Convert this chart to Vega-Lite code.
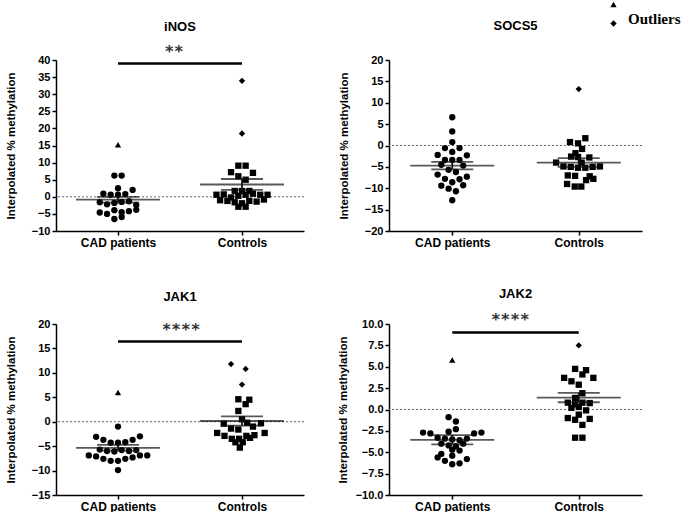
{
  "$schema": "https://vega.github.io/schema/vega-lite/v6.json",
  "padding": {"left": 5, "top": -3, "right": 0, "bottom": 0},
  "config": {
    "font": "Liberation Sans",
    "view": {"stroke": null},
    "axis": {"domainColor": "black", "domainWidth": 1.5, "tickColor": "black", "tickWidth": 1.5, "tickSize": 4, "labelFont": "Liberation Sans", "labelFontWeight": "bold", "labelFontSize": 11, "labelColor": "black", "titleFont": "Liberation Sans", "titleFontWeight": "bold", "titleFontSize": 11.5, "titleColor": "black", "grid": false},
    "axisX": {"labelFontSize": 12, "labelAngle": 0, "labelPadding": 2},
    "axisY": {"labelPadding": 2, "titlePadding": 15},
    "title": {"font": "Liberation Sans", "fontSize": 13, "fontWeight": "bold", "color": "black", "frame": "group"}
  },
  "datasets": {
    "points": [
      {"gene":"iNOS","group":"CAD patients","marker":"Outlier CAD","v":15.2,"slot":0},
      {"gene":"iNOS","group":"CAD patients","marker":"CAD","v":6.2,"slot":-0.5},
      {"gene":"iNOS","group":"CAD patients","marker":"CAD","v":6.2,"slot":0.5},
      {"gene":"iNOS","group":"CAD patients","marker":"CAD","v":2.5,"slot":0},
      {"gene":"iNOS","group":"CAD patients","marker":"CAD","v":2.0,"slot":2},
      {"gene":"iNOS","group":"CAD patients","marker":"CAD","v":0.9,"slot":-2},
      {"gene":"iNOS","group":"CAD patients","marker":"CAD","v":0.6,"slot":-1},
      {"gene":"iNOS","group":"CAD patients","marker":"CAD","v":0.6,"slot":0},
      {"gene":"iNOS","group":"CAD patients","marker":"CAD","v":0.8,"slot":1},
      {"gene":"iNOS","group":"CAD patients","marker":"CAD","v":-1.6,"slot":-2.5},
      {"gene":"iNOS","group":"CAD patients","marker":"CAD","v":-2.2,"slot":-1.5},
      {"gene":"iNOS","group":"CAD patients","marker":"CAD","v":-1.8,"slot":-0.5},
      {"gene":"iNOS","group":"CAD patients","marker":"CAD","v":-1.5,"slot":0.5},
      {"gene":"iNOS","group":"CAD patients","marker":"CAD","v":-1.3,"slot":1.5},
      {"gene":"iNOS","group":"CAD patients","marker":"CAD","v":-2.4,"slot":2.5},
      {"gene":"iNOS","group":"CAD patients","marker":"CAD","v":-4.6,"slot":-2.5},
      {"gene":"iNOS","group":"CAD patients","marker":"CAD","v":-5.0,"slot":-1.5},
      {"gene":"iNOS","group":"CAD patients","marker":"CAD","v":-3.9,"slot":-0.5},
      {"gene":"iNOS","group":"CAD patients","marker":"CAD","v":-4.5,"slot":0.5},
      {"gene":"iNOS","group":"CAD patients","marker":"CAD","v":-4.2,"slot":1.5},
      {"gene":"iNOS","group":"CAD patients","marker":"CAD","v":-3.8,"slot":2.5},
      {"gene":"iNOS","group":"CAD patients","marker":"CAD","v":-6.5,"slot":-0.5},
      {"gene":"iNOS","group":"CAD patients","marker":"CAD","v":-5.9,"slot":0.5},
      {"gene":"iNOS","group":"Controls","marker":"Outlier Control","v":33.9,"slot":0},
      {"gene":"iNOS","group":"Controls","marker":"Outlier Control","v":18.5,"slot":0},
      {"gene":"iNOS","group":"Controls","marker":"Control","v":9.1,"slot":-0.5},
      {"gene":"iNOS","group":"Controls","marker":"Control","v":9.1,"slot":0.5},
      {"gene":"iNOS","group":"Controls","marker":"Control","v":7.2,"slot":-1.5},
      {"gene":"iNOS","group":"Controls","marker":"Control","v":7.0,"slot":1.5},
      {"gene":"iNOS","group":"Controls","marker":"Control","v":6.0,"slot":-0.5},
      {"gene":"iNOS","group":"Controls","marker":"Control","v":5.0,"slot":0.5},
      {"gene":"iNOS","group":"Controls","marker":"Control","v":1.7,"slot":-1},
      {"gene":"iNOS","group":"Controls","marker":"Control","v":1.7,"slot":0},
      {"gene":"iNOS","group":"Controls","marker":"Control","v":1.7,"slot":1},
      {"gene":"iNOS","group":"Controls","marker":"Control","v":0.6,"slot":-3.5},
      {"gene":"iNOS","group":"Controls","marker":"Control","v":0.7,"slot":-2.5},
      {"gene":"iNOS","group":"Controls","marker":"Control","v":-0.2,"slot":-1.5},
      {"gene":"iNOS","group":"Controls","marker":"Control","v":0.3,"slot":-0.5},
      {"gene":"iNOS","group":"Controls","marker":"Control","v":0.6,"slot":0.5},
      {"gene":"iNOS","group":"Controls","marker":"Control","v":0.9,"slot":1.5},
      {"gene":"iNOS","group":"Controls","marker":"Control","v":0.6,"slot":2.5},
      {"gene":"iNOS","group":"Controls","marker":"Control","v":0.6,"slot":3.5},
      {"gene":"iNOS","group":"Controls","marker":"Control","v":-1.0,"slot":-3},
      {"gene":"iNOS","group":"Controls","marker":"Control","v":-1.2,"slot":-2},
      {"gene":"iNOS","group":"Controls","marker":"Control","v":-1.6,"slot":-1},
      {"gene":"iNOS","group":"Controls","marker":"Control","v":-1.9,"slot":0},
      {"gene":"iNOS","group":"Controls","marker":"Control","v":-1.2,"slot":1},
      {"gene":"iNOS","group":"Controls","marker":"Control","v":-1.4,"slot":2},
      {"gene":"iNOS","group":"Controls","marker":"Control","v":-0.8,"slot":3},
      {"gene":"iNOS","group":"Controls","marker":"Control","v":-2.9,"slot":-0.5},
      {"gene":"iNOS","group":"Controls","marker":"Control","v":-2.9,"slot":0.5},

      {"gene":"SOCS5","group":"CAD patients","marker":"CAD","v":6.6,"slot":0},
      {"gene":"SOCS5","group":"CAD patients","marker":"CAD","v":3.3,"slot":0},
      {"gene":"SOCS5","group":"CAD patients","marker":"CAD","v":0.8,"slot":0},
      {"gene":"SOCS5","group":"CAD patients","marker":"CAD","v":-0.6,"slot":-1},
      {"gene":"SOCS5","group":"CAD patients","marker":"CAD","v":-0.6,"slot":1},
      {"gene":"SOCS5","group":"CAD patients","marker":"CAD","v":-1.5,"slot":0},
      {"gene":"SOCS5","group":"CAD patients","marker":"CAD","v":-2.2,"slot":-2},
      {"gene":"SOCS5","group":"CAD patients","marker":"CAD","v":-2.3,"slot":2},
      {"gene":"SOCS5","group":"CAD patients","marker":"CAD","v":-3.4,"slot":-1},
      {"gene":"SOCS5","group":"CAD patients","marker":"CAD","v":-3.4,"slot":0},
      {"gene":"SOCS5","group":"CAD patients","marker":"CAD","v":-3.4,"slot":1},
      {"gene":"SOCS5","group":"CAD patients","marker":"CAD","v":-4.5,"slot":-1.5},
      {"gene":"SOCS5","group":"CAD patients","marker":"CAD","v":-4.7,"slot":1.5},
      {"gene":"SOCS5","group":"CAD patients","marker":"CAD","v":-5.7,"slot":-0.5},
      {"gene":"SOCS5","group":"CAD patients","marker":"CAD","v":-6.2,"slot":0.5},
      {"gene":"SOCS5","group":"CAD patients","marker":"CAD","v":-6.8,"slot":-2},
      {"gene":"SOCS5","group":"CAD patients","marker":"CAD","v":-7.3,"slot":2},
      {"gene":"SOCS5","group":"CAD patients","marker":"CAD","v":-7.8,"slot":-1},
      {"gene":"SOCS5","group":"CAD patients","marker":"CAD","v":-7.9,"slot":1},
      {"gene":"SOCS5","group":"CAD patients","marker":"CAD","v":-9.4,"slot":-1.5},
      {"gene":"SOCS5","group":"CAD patients","marker":"CAD","v":-8.6,"slot":0},
      {"gene":"SOCS5","group":"CAD patients","marker":"CAD","v":-9.3,"slot":1.5},
      {"gene":"SOCS5","group":"CAD patients","marker":"CAD","v":-10.1,"slot":-0.5},
      {"gene":"SOCS5","group":"CAD patients","marker":"CAD","v":-10.7,"slot":0.5},
      {"gene":"SOCS5","group":"CAD patients","marker":"CAD","v":-12.8,"slot":0},
      {"gene":"SOCS5","group":"Controls","marker":"Outlier Control","v":13.2,"slot":0},
      {"gene":"SOCS5","group":"Controls","marker":"Control","v":0.8,"slot":-1.2},
      {"gene":"SOCS5","group":"Controls","marker":"Control","v":0.5,"slot":-0.1},
      {"gene":"SOCS5","group":"Controls","marker":"Control","v":1.7,"slot":0.9},
      {"gene":"SOCS5","group":"Controls","marker":"Control","v":-0.8,"slot":0.45},
      {"gene":"SOCS5","group":"Controls","marker":"Control","v":-1.8,"slot":-0.45},
      {"gene":"SOCS5","group":"Controls","marker":"Control","v":-2.6,"slot":-1.05},
      {"gene":"SOCS5","group":"Controls","marker":"Control","v":-2.7,"slot":-0.1},
      {"gene":"SOCS5","group":"Controls","marker":"Control","v":-2.8,"slot":1.45},
      {"gene":"SOCS5","group":"Controls","marker":"Control","v":-4.0,"slot":-3.1},
      {"gene":"SOCS5","group":"Controls","marker":"Control","v":-4.0,"slot":0.4},
      {"gene":"SOCS5","group":"Controls","marker":"Control","v":-4.9,"slot":-2.1},
      {"gene":"SOCS5","group":"Controls","marker":"Control","v":-5.0,"slot":-1.1},
      {"gene":"SOCS5","group":"Controls","marker":"Control","v":-5.2,"slot":-0.1},
      {"gene":"SOCS5","group":"Controls","marker":"Control","v":-5.2,"slot":0.9},
      {"gene":"SOCS5","group":"Controls","marker":"Control","v":-5.0,"slot":1.9},
      {"gene":"SOCS5","group":"Controls","marker":"Control","v":-4.9,"slot":2.9},
      {"gene":"SOCS5","group":"Controls","marker":"Control","v":-7.0,"slot":-1.5},
      {"gene":"SOCS5","group":"Controls","marker":"Control","v":-7.1,"slot":-0.5},
      {"gene":"SOCS5","group":"Controls","marker":"Control","v":-7.2,"slot":1.5},
      {"gene":"SOCS5","group":"Controls","marker":"Control","v":-8.1,"slot":1.0},
      {"gene":"SOCS5","group":"Controls","marker":"Control","v":-7.8,"slot":2.0},
      {"gene":"SOCS5","group":"Controls","marker":"Control","v":-9.0,"slot":-1.6},
      {"gene":"SOCS5","group":"Controls","marker":"Control","v":-9.6,"slot":-0.55},
      {"gene":"SOCS5","group":"Controls","marker":"Control","v":-9.6,"slot":0.35},

      {"gene":"JAK1","group":"CAD patients","marker":"Outlier CAD","v":6.0,"slot":0},
      {"gene":"JAK1","group":"CAD patients","marker":"CAD","v":-1.0,"slot":0},
      {"gene":"JAK1","group":"CAD patients","marker":"CAD","v":-3.1,"slot":-3},
      {"gene":"JAK1","group":"CAD patients","marker":"CAD","v":-3.7,"slot":-2},
      {"gene":"JAK1","group":"CAD patients","marker":"CAD","v":-4.3,"slot":-1},
      {"gene":"JAK1","group":"CAD patients","marker":"CAD","v":-4.3,"slot":0},
      {"gene":"JAK1","group":"CAD patients","marker":"CAD","v":-4.2,"slot":1},
      {"gene":"JAK1","group":"CAD patients","marker":"CAD","v":-3.7,"slot":2},
      {"gene":"JAK1","group":"CAD patients","marker":"CAD","v":-3.0,"slot":3},
      {"gene":"JAK1","group":"CAD patients","marker":"CAD","v":-5.7,"slot":-2.5},
      {"gene":"JAK1","group":"CAD patients","marker":"CAD","v":-6.0,"slot":-1.5},
      {"gene":"JAK1","group":"CAD patients","marker":"CAD","v":-6.1,"slot":-0.5},
      {"gene":"JAK1","group":"CAD patients","marker":"CAD","v":-5.8,"slot":0.5},
      {"gene":"JAK1","group":"CAD patients","marker":"CAD","v":-6.0,"slot":1.5},
      {"gene":"JAK1","group":"CAD patients","marker":"CAD","v":-5.8,"slot":2.5},
      {"gene":"JAK1","group":"CAD patients","marker":"CAD","v":-6.9,"slot":-4},
      {"gene":"JAK1","group":"CAD patients","marker":"CAD","v":-7.1,"slot":-3},
      {"gene":"JAK1","group":"CAD patients","marker":"CAD","v":-7.6,"slot":-2},
      {"gene":"JAK1","group":"CAD patients","marker":"CAD","v":-8.0,"slot":-1},
      {"gene":"JAK1","group":"CAD patients","marker":"CAD","v":-8.0,"slot":0},
      {"gene":"JAK1","group":"CAD patients","marker":"CAD","v":-7.6,"slot":1},
      {"gene":"JAK1","group":"CAD patients","marker":"CAD","v":-7.3,"slot":2},
      {"gene":"JAK1","group":"CAD patients","marker":"CAD","v":-6.9,"slot":3},
      {"gene":"JAK1","group":"CAD patients","marker":"CAD","v":-6.9,"slot":4},
      {"gene":"JAK1","group":"CAD patients","marker":"CAD","v":-9.9,"slot":0},
      {"gene":"JAK1","group":"Controls","marker":"Outlier Control","v":11.8,"slot":-1.5},
      {"gene":"JAK1","group":"Controls","marker":"Outlier Control","v":10.8,"slot":0.5},
      {"gene":"JAK1","group":"Controls","marker":"Outlier Control","v":7.6,"slot":0},
      {"gene":"JAK1","group":"Controls","marker":"Control","v":4.6,"slot":-0.5},
      {"gene":"JAK1","group":"Controls","marker":"Control","v":4.5,"slot":1},
      {"gene":"JAK1","group":"Controls","marker":"Control","v":3.6,"slot":0.5},
      {"gene":"JAK1","group":"Controls","marker":"Control","v":2.2,"slot":-0.5},
      {"gene":"JAK1","group":"Controls","marker":"Control","v":0.5,"slot":0},
      {"gene":"JAK1","group":"Controls","marker":"Control","v":-0.4,"slot":-2.5},
      {"gene":"JAK1","group":"Controls","marker":"Control","v":-1.4,"slot":-1.5},
      {"gene":"JAK1","group":"Controls","marker":"Control","v":-1.6,"slot":-0.5},
      {"gene":"JAK1","group":"Controls","marker":"Control","v":-0.2,"slot":0.7},
      {"gene":"JAK1","group":"Controls","marker":"Control","v":-1.0,"slot":1.5},
      {"gene":"JAK1","group":"Controls","marker":"Control","v":-0.3,"slot":2.6},
      {"gene":"JAK1","group":"Controls","marker":"Control","v":-2.3,"slot":-3.4},
      {"gene":"JAK1","group":"Controls","marker":"Control","v":-2.9,"slot":-2.4},
      {"gene":"JAK1","group":"Controls","marker":"Control","v":-3.5,"slot":-1.4},
      {"gene":"JAK1","group":"Controls","marker":"Control","v":-3.5,"slot":-0.4},
      {"gene":"JAK1","group":"Controls","marker":"Control","v":-2.9,"slot":0.6},
      {"gene":"JAK1","group":"Controls","marker":"Control","v":-2.75,"slot":1.7},
      {"gene":"JAK1","group":"Controls","marker":"Control","v":-2.3,"slot":3.1},
      {"gene":"JAK1","group":"Controls","marker":"Control","v":-4.2,"slot":-0.9},
      {"gene":"JAK1","group":"Controls","marker":"Control","v":-4.2,"slot":0.1},
      {"gene":"JAK1","group":"Controls","marker":"Control","v":-3.3,"slot":1.1},
      {"gene":"JAK1","group":"Controls","marker":"Control","v":-5.3,"slot":-0.3},

      {"gene":"JAK2","group":"CAD patients","marker":"Outlier CAD","v":5.8,"slot":0},
      {"gene":"JAK2","group":"CAD patients","marker":"CAD","v":-0.9,"slot":-0.5},
      {"gene":"JAK2","group":"CAD patients","marker":"CAD","v":-1.4,"slot":0.5},
      {"gene":"JAK2","group":"CAD patients","marker":"CAD","v":-2.7,"slot":-4},
      {"gene":"JAK2","group":"CAD patients","marker":"CAD","v":-2.8,"slot":-3},
      {"gene":"JAK2","group":"CAD patients","marker":"CAD","v":-2.6,"slot":-0.5},
      {"gene":"JAK2","group":"CAD patients","marker":"CAD","v":-2.3,"slot":0.5},
      {"gene":"JAK2","group":"CAD patients","marker":"CAD","v":-2.8,"slot":3},
      {"gene":"JAK2","group":"CAD patients","marker":"CAD","v":-2.7,"slot":4},
      {"gene":"JAK2","group":"CAD patients","marker":"CAD","v":-3.3,"slot":-2},
      {"gene":"JAK2","group":"CAD patients","marker":"CAD","v":-3.4,"slot":-1},
      {"gene":"JAK2","group":"CAD patients","marker":"CAD","v":-3.5,"slot":0},
      {"gene":"JAK2","group":"CAD patients","marker":"CAD","v":-3.6,"slot":1},
      {"gene":"JAK2","group":"CAD patients","marker":"CAD","v":-3.4,"slot":2},
      {"gene":"JAK2","group":"CAD patients","marker":"CAD","v":-4.0,"slot":-1.5},
      {"gene":"JAK2","group":"CAD patients","marker":"CAD","v":-4.2,"slot":-0.5},
      {"gene":"JAK2","group":"CAD patients","marker":"CAD","v":-4.3,"slot":0.5},
      {"gene":"JAK2","group":"CAD patients","marker":"CAD","v":-4.0,"slot":1.5},
      {"gene":"JAK2","group":"CAD patients","marker":"CAD","v":-4.7,"slot":0},
      {"gene":"JAK2","group":"CAD patients","marker":"CAD","v":-5.6,"slot":-2},
      {"gene":"JAK2","group":"CAD patients","marker":"CAD","v":-5.2,"slot":-1.5},
      {"gene":"JAK2","group":"CAD patients","marker":"CAD","v":-5.4,"slot":0},
      {"gene":"JAK2","group":"CAD patients","marker":"CAD","v":-4.8,"slot":1},
      {"gene":"JAK2","group":"CAD patients","marker":"CAD","v":-6.0,"slot":-1},
      {"gene":"JAK2","group":"CAD patients","marker":"CAD","v":-5.8,"slot":2},
      {"gene":"JAK2","group":"CAD patients","marker":"CAD","v":-6.4,"slot":0},
      {"gene":"JAK2","group":"CAD patients","marker":"CAD","v":-6.3,"slot":1},
      {"gene":"JAK2","group":"Controls","marker":"Outlier Control","v":7.5,"slot":0},
      {"gene":"JAK2","group":"Controls","marker":"Control","v":4.75,"slot":-0.5},
      {"gene":"JAK2","group":"Controls","marker":"Control","v":4.6,"slot":1},
      {"gene":"JAK2","group":"Controls","marker":"Control","v":4.1,"slot":0.5},
      {"gene":"JAK2","group":"Controls","marker":"Control","v":3.7,"slot":-2},
      {"gene":"JAK2","group":"Controls","marker":"Control","v":3.3,"slot":-1},
      {"gene":"JAK2","group":"Controls","marker":"Control","v":3.7,"slot":2},
      {"gene":"JAK2","group":"Controls","marker":"Control","v":2.9,"slot":0},
      {"gene":"JAK2","group":"Controls","marker":"Control","v":1.9,"slot":0.5},
      {"gene":"JAK2","group":"Controls","marker":"Control","v":1.35,"slot":-0.5},
      {"gene":"JAK2","group":"Controls","marker":"Control","v":0.8,"slot":-1.5},
      {"gene":"JAK2","group":"Controls","marker":"Control","v":0.6,"slot":-0.5},
      {"gene":"JAK2","group":"Controls","marker":"Control","v":0.8,"slot":0.5},
      {"gene":"JAK2","group":"Controls","marker":"Control","v":0.75,"slot":1.5},
      {"gene":"JAK2","group":"Controls","marker":"Control","v":0.2,"slot":-1},
      {"gene":"JAK2","group":"Controls","marker":"Control","v":0.3,"slot":0},
      {"gene":"JAK2","group":"Controls","marker":"Control","v":-0.1,"slot":1},
      {"gene":"JAK2","group":"Controls","marker":"Control","v":-0.6,"slot":0},
      {"gene":"JAK2","group":"Controls","marker":"Control","v":-1.0,"slot":-1.5},
      {"gene":"JAK2","group":"Controls","marker":"Control","v":-1.2,"slot":-0.5},
      {"gene":"JAK2","group":"Controls","marker":"Control","v":-1.1,"slot":1.5},
      {"gene":"JAK2","group":"Controls","marker":"Control","v":-1.8,"slot":0.5},
      {"gene":"JAK2","group":"Controls","marker":"Control","v":-3.3,"slot":-0.5},
      {"gene":"JAK2","group":"Controls","marker":"Control","v":-3.3,"slot":0.5}
    ],
    "stats": [
      {"gene":"iNOS","group":"CAD patients","mean":-0.85,"lo":-1.7,"hi":0.0},
      {"gene":"iNOS","group":"Controls","mean":3.6,"lo":2.0,"hi":5.2},
      {"gene":"SOCS5","group":"CAD patients","mean":-4.7,"lo":-5.6,"hi":-3.85},
      {"gene":"SOCS5","group":"Controls","mean":-4.0,"lo":-5.0,"hi":-2.95},
      {"gene":"JAK1","group":"CAD patients","mean":-5.35,"lo":-5.9,"hi":-4.75},
      {"gene":"JAK1","group":"Controls","mean":0.15,"lo":-0.8,"hi":1.1},
      {"gene":"JAK2","group":"CAD patients","mean":-3.55,"lo":-4.08,"hi":-3.0},
      {"gene":"JAK2","group":"Controls","mean":1.4,"lo":0.85,"hi":1.95}
    ],
    "sig": [
      {"gene":"iNOS","from":"CAD patients","to":"Controls","y":39,"ty":42.4,"label":"**"},
      {"gene":"JAK1","from":"CAD patients","to":"Controls","y":16.4,"ty":18.8,"label":"****"},
      {"gene":"JAK2","from":"CAD patients","to":"Controls","y":9.0,"ty":10.46,"label":"****"}
    ]
  },
  "columns": 2,
  "spacing": {"row": 40, "column": 32},
  "concat": [
    {
      "width": 248, "height": 171,
      "title": {"text": "iNOS", "offset": 10},
      "layer": [
        {"data": {"name": "stats"}, "transform": [{"filter": "datum.gene == 'iNOS' && datum.group == 'CAD patients'"}],
         "mark": {"type": "rule", "strokeDash": [2, 2], "color": "#666", "strokeWidth": 1},
         "encoding": {"y": {"datum": 0, "type": "quantitative", "scale": {"domain": [-10, 40], "nice": false, "zero": false}}}},
        {"data": {"name": "points"}, "transform": [{"filter": "datum.gene == 'iNOS'"}],
         "mark": {"type": "point", "filled": true, "opacity": 1, "color": "black", "size": 40},
         "encoding": {
           "x": {"field": "group", "type": "nominal", "scale": {"type": "point", "domain": ["CAD patients", "Controls"], "padding": 0.5}, "axis": {"title": null, "labelOverlap": false}},
           "xOffset": {"field": "slot", "type": "quantitative", "scale": {"domain": [-4, 4], "range": [-29.2, 29.2]}},
           "y": {"field": "v", "type": "quantitative", "scale": {"domain": [-10, 40], "nice": false, "zero": false}, "axis": {"title": "Interpolated % methylation", "values": [-10, -5, 0, 5, 10, 15, 20, 25, 30, 35, 40], "tickCount": 20, "labelOverlap": false}},
           "shape": {"field": "marker", "type": "nominal", "scale": {"domain": ["CAD", "Control", "Outlier CAD", "Outlier Control"], "range": ["circle", "square", "triangle-up", "diamond"]},
             "legend": {"orient": "none", "direction": "vertical", "legendX": 550, "legendY": -63, "values": ["Outlier CAD", "Outlier Control"], "title": null, "labelExpr": "datum.value == 'Outlier Control' ? 'Outliers' : ''", "labelFont": "Liberation Serif", "labelFontWeight": "bold", "labelFontSize": 15, "labelColor": "black", "labelBaseline": "alphabetic", "symbolFillColor": "black", "symbolStrokeColor": "black", "symbolSize": 40, "rowPadding": 0, "labelOffset": 7}}
         }},
        {"data": {"name": "stats"}, "transform": [{"filter": "datum.gene == 'iNOS'"}],
         "mark": {"type": "tick", "orient": "horizontal", "size": 84, "thickness": 1.8, "color": "#111"},
         "encoding": {"x": {"field": "group", "type": "nominal", "scale": {"type": "point", "domain": ["CAD patients", "Controls"], "padding": 0.5}}, "y": {"field": "mean", "type": "quantitative", "scale": {"domain": [-10, 40], "nice": false, "zero": false}}}},
        {"data": {"name": "stats"}, "transform": [{"filter": "datum.gene == 'iNOS'"}],
         "mark": {"type": "tick", "orient": "horizontal", "size": 42, "thickness": 1.8, "color": "#111"},
         "encoding": {"x": {"field": "group", "type": "nominal", "scale": {"type": "point", "domain": ["CAD patients", "Controls"], "padding": 0.5}}, "y": {"field": "lo", "type": "quantitative", "scale": {"domain": [-10, 40], "nice": false, "zero": false}}}},
        {"data": {"name": "stats"}, "transform": [{"filter": "datum.gene == 'iNOS'"}],
         "mark": {"type": "tick", "orient": "horizontal", "size": 42, "thickness": 1.8, "color": "#111"},
         "encoding": {"x": {"field": "group", "type": "nominal", "scale": {"type": "point", "domain": ["CAD patients", "Controls"], "padding": 0.5}}, "y": {"field": "hi", "type": "quantitative", "scale": {"domain": [-10, 40], "nice": false, "zero": false}}}},
        {"data": {"name": "stats"}, "transform": [{"filter": "datum.gene == 'iNOS'"}],
         "mark": {"type": "rule", "strokeWidth": 1.8, "color": "#111"},
         "encoding": {"x": {"field": "group", "type": "nominal", "scale": {"type": "point", "domain": ["CAD patients", "Controls"], "padding": 0.5}}, "y": {"field": "lo", "type": "quantitative", "scale": {"domain": [-10, 40], "nice": false, "zero": false}}, "y2": {"field": "hi"}}},
        {"data": {"name": "sig"}, "transform": [{"filter": "datum.gene == 'iNOS'"}],
         "mark": {"type": "rule", "strokeWidth": 2.5, "color": "black"},
         "encoding": {"x": {"field": "from", "type": "nominal", "scale": {"type": "point", "domain": ["CAD patients", "Controls"], "padding": 0.5}}, "x2": {"field": "to"}, "y": {"field": "y", "type": "quantitative", "scale": {"domain": [-10, 40], "nice": false, "zero": false}}}},
        {"data": {"name": "sig"}, "transform": [{"filter": "datum.gene == 'iNOS'"}],
         "mark": {"type": "text", "font": "DejaVu Sans Mono", "fontWeight": "bold", "fontSize": 16, "dx": 56, "align": "center", "baseline": "middle", "color": "#333"},
         "encoding": {"x": {"field": "from", "type": "nominal", "scale": {"type": "point", "domain": ["CAD patients", "Controls"], "padding": 0.5}}, "y": {"field": "ty", "type": "quantitative", "scale": {"domain": [-10, 40], "nice": false, "zero": false}}, "text": {"field": "label"}}}
      ]
    },
    {
      "width": 253, "height": 171,
      "title": {"text": "SOCS5", "offset": 21},
      "layer": [
        {"data": {"name": "stats"}, "transform": [{"filter": "datum.gene == 'SOCS5' && datum.group == 'CAD patients'"}],
         "mark": {"type": "rule", "strokeDash": [2, 2], "color": "#666", "strokeWidth": 1},
         "encoding": {"y": {"datum": 0, "type": "quantitative", "scale": {"domain": [-20, 20], "nice": false, "zero": false}}}},
        {"data": {"name": "points"}, "transform": [{"filter": "datum.gene == 'SOCS5'"}],
         "mark": {"type": "point", "filled": true, "opacity": 1, "color": "black", "size": 40},
         "encoding": {
           "x": {"field": "group", "type": "nominal", "scale": {"type": "point", "domain": ["CAD patients", "Controls"], "padding": 0.5}, "axis": {"title": null, "labelOverlap": false}},
           "xOffset": {"field": "slot", "type": "quantitative", "scale": {"domain": [-4, 4], "range": [-29.2, 29.2]}},
           "y": {"field": "v", "type": "quantitative", "scale": {"domain": [-20, 20], "nice": false, "zero": false}, "axis": {"title": "Interpolated % methylation", "values": [-20, -15, -10, -5, 0, 5, 10, 15, 20], "tickCount": 20, "labelOverlap": false}},
           "shape": {"field": "marker", "type": "nominal", "scale": {"domain": ["CAD", "Control", "Outlier CAD", "Outlier Control"], "range": ["circle", "square", "triangle-up", "diamond"]}}
         }},
        {"data": {"name": "stats"}, "transform": [{"filter": "datum.gene == 'SOCS5'"}],
         "mark": {"type": "tick", "orient": "horizontal", "size": 84, "thickness": 1.8, "color": "#111"},
         "encoding": {"x": {"field": "group", "type": "nominal", "scale": {"type": "point", "domain": ["CAD patients", "Controls"], "padding": 0.5}}, "y": {"field": "mean", "type": "quantitative", "scale": {"domain": [-20, 20], "nice": false, "zero": false}}}},
        {"data": {"name": "stats"}, "transform": [{"filter": "datum.gene == 'SOCS5'"}],
         "mark": {"type": "tick", "orient": "horizontal", "size": 42, "thickness": 1.8, "color": "#111"},
         "encoding": {"x": {"field": "group", "type": "nominal", "scale": {"type": "point", "domain": ["CAD patients", "Controls"], "padding": 0.5}}, "y": {"field": "lo", "type": "quantitative", "scale": {"domain": [-20, 20], "nice": false, "zero": false}}}},
        {"data": {"name": "stats"}, "transform": [{"filter": "datum.gene == 'SOCS5'"}],
         "mark": {"type": "tick", "orient": "horizontal", "size": 42, "thickness": 1.8, "color": "#111"},
         "encoding": {"x": {"field": "group", "type": "nominal", "scale": {"type": "point", "domain": ["CAD patients", "Controls"], "padding": 0.5}}, "y": {"field": "hi", "type": "quantitative", "scale": {"domain": [-20, 20], "nice": false, "zero": false}}}},
        {"data": {"name": "stats"}, "transform": [{"filter": "datum.gene == 'SOCS5'"}],
         "mark": {"type": "rule", "strokeWidth": 1.8, "color": "#111"},
         "encoding": {"x": {"field": "group", "type": "nominal", "scale": {"type": "point", "domain": ["CAD patients", "Controls"], "padding": 0.5}}, "y": {"field": "lo", "type": "quantitative", "scale": {"domain": [-20, 20], "nice": false, "zero": false}}, "y2": {"field": "hi"}}}
      ]
    },
    {
      "width": 248, "height": 171,
      "title": {"text": "JAK1", "offset": 14},
      "layer": [
        {"data": {"name": "stats"}, "transform": [{"filter": "datum.gene == 'JAK1' && datum.group == 'CAD patients'"}],
         "mark": {"type": "rule", "strokeDash": [2, 2], "color": "#666", "strokeWidth": 1},
         "encoding": {"y": {"datum": 0, "type": "quantitative", "scale": {"domain": [-15, 20], "nice": false, "zero": false}}}},
        {"data": {"name": "points"}, "transform": [{"filter": "datum.gene == 'JAK1'"}],
         "mark": {"type": "point", "filled": true, "opacity": 1, "color": "black", "size": 40},
         "encoding": {
           "x": {"field": "group", "type": "nominal", "scale": {"type": "point", "domain": ["CAD patients", "Controls"], "padding": 0.5}, "axis": {"title": null, "labelOverlap": false}},
           "xOffset": {"field": "slot", "type": "quantitative", "scale": {"domain": [-4, 4], "range": [-29.2, 29.2]}},
           "y": {"field": "v", "type": "quantitative", "scale": {"domain": [-15, 20], "nice": false, "zero": false}, "axis": {"title": "Interpolated % methylation", "values": [-15, -10, -5, 0, 5, 10, 15, 20], "tickCount": 20, "labelOverlap": false}},
           "shape": {"field": "marker", "type": "nominal", "scale": {"domain": ["CAD", "Control", "Outlier CAD", "Outlier Control"], "range": ["circle", "square", "triangle-up", "diamond"]}}
         }},
        {"data": {"name": "stats"}, "transform": [{"filter": "datum.gene == 'JAK1'"}],
         "mark": {"type": "tick", "orient": "horizontal", "size": 84, "thickness": 1.8, "color": "#111"},
         "encoding": {"x": {"field": "group", "type": "nominal", "scale": {"type": "point", "domain": ["CAD patients", "Controls"], "padding": 0.5}}, "y": {"field": "mean", "type": "quantitative", "scale": {"domain": [-15, 20], "nice": false, "zero": false}}}},
        {"data": {"name": "stats"}, "transform": [{"filter": "datum.gene == 'JAK1'"}],
         "mark": {"type": "tick", "orient": "horizontal", "size": 42, "thickness": 1.8, "color": "#111"},
         "encoding": {"x": {"field": "group", "type": "nominal", "scale": {"type": "point", "domain": ["CAD patients", "Controls"], "padding": 0.5}}, "y": {"field": "lo", "type": "quantitative", "scale": {"domain": [-15, 20], "nice": false, "zero": false}}}},
        {"data": {"name": "stats"}, "transform": [{"filter": "datum.gene == 'JAK1'"}],
         "mark": {"type": "tick", "orient": "horizontal", "size": 42, "thickness": 1.8, "color": "#111"},
         "encoding": {"x": {"field": "group", "type": "nominal", "scale": {"type": "point", "domain": ["CAD patients", "Controls"], "padding": 0.5}}, "y": {"field": "hi", "type": "quantitative", "scale": {"domain": [-15, 20], "nice": false, "zero": false}}}},
        {"data": {"name": "stats"}, "transform": [{"filter": "datum.gene == 'JAK1'"}],
         "mark": {"type": "rule", "strokeWidth": 1.8, "color": "#111"},
         "encoding": {"x": {"field": "group", "type": "nominal", "scale": {"type": "point", "domain": ["CAD patients", "Controls"], "padding": 0.5}}, "y": {"field": "lo", "type": "quantitative", "scale": {"domain": [-15, 20], "nice": false, "zero": false}}, "y2": {"field": "hi"}}},
        {"data": {"name": "sig"}, "transform": [{"filter": "datum.gene == 'JAK1'"}],
         "mark": {"type": "rule", "strokeWidth": 2.5, "color": "black"},
         "encoding": {"x": {"field": "from", "type": "nominal", "scale": {"type": "point", "domain": ["CAD patients", "Controls"], "padding": 0.5}}, "x2": {"field": "to"}, "y": {"field": "y", "type": "quantitative", "scale": {"domain": [-15, 20], "nice": false, "zero": false}}}},
        {"data": {"name": "sig"}, "transform": [{"filter": "datum.gene == 'JAK1'"}],
         "mark": {"type": "text", "font": "DejaVu Sans Mono", "fontWeight": "bold", "fontSize": 16, "dx": 63, "align": "center", "baseline": "middle", "color": "#333"},
         "encoding": {"x": {"field": "from", "type": "nominal", "scale": {"type": "point", "domain": ["CAD patients", "Controls"], "padding": 0.5}}, "y": {"field": "ty", "type": "quantitative", "scale": {"domain": [-15, 20], "nice": false, "zero": false}}, "text": {"field": "label"}}}
      ]
    },
    {
      "width": 253, "height": 171,
      "title": {"text": "JAK2", "offset": 11},
      "layer": [
        {"data": {"name": "stats"}, "transform": [{"filter": "datum.gene == 'JAK2' && datum.group == 'CAD patients'"}],
         "mark": {"type": "rule", "strokeDash": [2, 2], "color": "#666", "strokeWidth": 1},
         "encoding": {"y": {"datum": 0, "type": "quantitative", "scale": {"domain": [-10, 10], "nice": false, "zero": false}}}},
        {"data": {"name": "points"}, "transform": [{"filter": "datum.gene == 'JAK2'"}],
         "mark": {"type": "point", "filled": true, "opacity": 1, "color": "black", "size": 40},
         "encoding": {
           "x": {"field": "group", "type": "nominal", "scale": {"type": "point", "domain": ["CAD patients", "Controls"], "padding": 0.5}, "axis": {"title": null, "labelOverlap": false}},
           "xOffset": {"field": "slot", "type": "quantitative", "scale": {"domain": [-4, 4], "range": [-29.2, 29.2]}},
           "y": {"field": "v", "type": "quantitative", "scale": {"domain": [-10, 10], "nice": false, "zero": false}, "axis": {"title": "Interpolated % methylation", "values": [-10, -7.5, -5, -2.5, 0, 2.5, 5, 7.5, 10], "tickCount": 20, "format": ".1f", "labelOverlap": false, "titlePadding": 7}},
           "shape": {"field": "marker", "type": "nominal", "scale": {"domain": ["CAD", "Control", "Outlier CAD", "Outlier Control"], "range": ["circle", "square", "triangle-up", "diamond"]}}
         }},
        {"data": {"name": "stats"}, "transform": [{"filter": "datum.gene == 'JAK2'"}],
         "mark": {"type": "tick", "orient": "horizontal", "size": 84, "thickness": 1.8, "color": "#111"},
         "encoding": {"x": {"field": "group", "type": "nominal", "scale": {"type": "point", "domain": ["CAD patients", "Controls"], "padding": 0.5}}, "y": {"field": "mean", "type": "quantitative", "scale": {"domain": [-10, 10], "nice": false, "zero": false}}}},
        {"data": {"name": "stats"}, "transform": [{"filter": "datum.gene == 'JAK2'"}],
         "mark": {"type": "tick", "orient": "horizontal", "size": 42, "thickness": 1.8, "color": "#111"},
         "encoding": {"x": {"field": "group", "type": "nominal", "scale": {"type": "point", "domain": ["CAD patients", "Controls"], "padding": 0.5}}, "y": {"field": "lo", "type": "quantitative", "scale": {"domain": [-10, 10], "nice": false, "zero": false}}}},
        {"data": {"name": "stats"}, "transform": [{"filter": "datum.gene == 'JAK2'"}],
         "mark": {"type": "tick", "orient": "horizontal", "size": 42, "thickness": 1.8, "color": "#111"},
         "encoding": {"x": {"field": "group", "type": "nominal", "scale": {"type": "point", "domain": ["CAD patients", "Controls"], "padding": 0.5}}, "y": {"field": "hi", "type": "quantitative", "scale": {"domain": [-10, 10], "nice": false, "zero": false}}}},
        {"data": {"name": "stats"}, "transform": [{"filter": "datum.gene == 'JAK2'"}],
         "mark": {"type": "rule", "strokeWidth": 1.8, "color": "#111"},
         "encoding": {"x": {"field": "group", "type": "nominal", "scale": {"type": "point", "domain": ["CAD patients", "Controls"], "padding": 0.5}}, "y": {"field": "lo", "type": "quantitative", "scale": {"domain": [-10, 10], "nice": false, "zero": false}}, "y2": {"field": "hi"}}},
        {"data": {"name": "sig"}, "transform": [{"filter": "datum.gene == 'JAK2'"}],
         "mark": {"type": "rule", "strokeWidth": 2.5, "color": "black"},
         "encoding": {"x": {"field": "from", "type": "nominal", "scale": {"type": "point", "domain": ["CAD patients", "Controls"], "padding": 0.5}}, "x2": {"field": "to"}, "y": {"field": "y", "type": "quantitative", "scale": {"domain": [-10, 10], "nice": false, "zero": false}}}},
        {"data": {"name": "sig"}, "transform": [{"filter": "datum.gene == 'JAK2'"}],
         "mark": {"type": "text", "font": "DejaVu Sans Mono", "fontWeight": "bold", "fontSize": 16, "dx": 58, "align": "center", "baseline": "middle", "color": "#333"},
         "encoding": {"x": {"field": "from", "type": "nominal", "scale": {"type": "point", "domain": ["CAD patients", "Controls"], "padding": 0.5}}, "y": {"field": "ty", "type": "quantitative", "scale": {"domain": [-10, 10], "nice": false, "zero": false}}, "text": {"field": "label"}}}
      ]
    }
  ]
}
